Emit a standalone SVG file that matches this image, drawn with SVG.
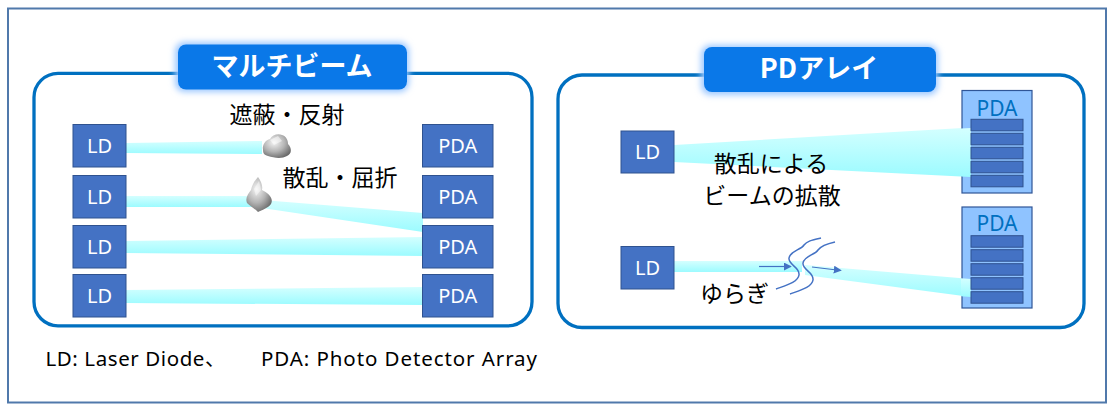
<svg xmlns="http://www.w3.org/2000/svg" width="1109" height="405" viewBox="0 0 1109 405">
  <defs>
    <linearGradient id="beam" x1="0" y1="0" x2="0" y2="1">
      <stop offset="0" stop-color="#d4ffff"/>
      <stop offset="1" stop-color="#9cfbff"/>
    </linearGradient>
    <radialGradient id="rock" cx="0.4" cy="0.35" r="0.7">
      <stop offset="0" stop-color="#f4f4f4"/>
      <stop offset="0.55" stop-color="#b4b4b4"/>
      <stop offset="1" stop-color="#6a6a6a"/>
    </radialGradient>
    <filter id="glow" x="-20%" y="-40%" width="140%" height="180%">
      <feGaussianBlur stdDeviation="3"/>
    </filter>
    <marker id="arrow" viewBox="0 0 10 10" refX="9" refY="5" markerWidth="8" markerHeight="8" orient="auto" markerUnits="userSpaceOnUse">
      <path d="M0,0 L10,5 L0,10 Z" fill="#4472c4"/>
    </marker>
    <style>
      .frame { fill: #ffffff; stroke: #5079ab; stroke-width: 2; }
      .panel { fill: none; stroke: #0070c0; stroke-width: 3.3; }
      .tabglow { fill: #9cc8ff; filter: url(#glow); }
      .tab { fill: #0a78e8; }
      .tabtxt { font-family: "Noto Sans CJK JP", sans-serif; font-weight: 700; font-size: 27px; fill: #ffffff; text-anchor: middle; }
      .box { fill: #4472c4; stroke: #2f528f; stroke-width: 1; }
      .boxtxt { font-family: "Noto Sans", "Liberation Sans", sans-serif; font-size: 20px; fill: #ffffff; text-anchor: middle; }
      .arr { fill: #8fc3ff; stroke: #2f5597; stroke-width: 1.2; }
      .arrtxt { font-family: "Noto Sans", "Liberation Sans", sans-serif; font-size: 21px; fill: #0070c0; text-anchor: middle; }
      .cell { fill: #4472c4; stroke: #2f528f; stroke-width: 1; }
      .beam { fill: url(#beam); }
      .jp { font-family: "Noto Sans CJK JP", sans-serif; font-size: 23px; fill: #000000; }
      .legend { font-family: "Noto Sans", "Noto Sans CJK JP", sans-serif; font-size: 20.5px; fill: #000000; }
      .wave { fill: none; stroke: #4472c4; stroke-width: 1.5; }
      .flow { stroke: #4472c4; stroke-width: 1.2; marker-end: url(#arrow); }
    </style>
  </defs>

  <!-- outer frame -->
  <rect class="frame" x="8" y="8.5" width="1098" height="394"/>

  <!-- panel outlines -->
  <g id="panel-multibeam">
    <rect class="panel" x="34" y="73.3" width="498" height="252.5" rx="24"/>
  </g>
  <g id="panel-pdarray">
    <rect class="panel" x="558" y="75" width="526" height="252.5" rx="24"/>
  </g>

  <!-- beams -->
  <g id="connectors">
    <!-- multibeam side -->
    <polygon class="beam" points="126,143 262,141 262,154 126,153"/>
    <polygon class="beam" points="126,196 252,196 252,207 126,207"/>
    <polygon class="beam" points="262,200 423,213 423,232 262,208"/>
    <polygon class="beam" points="126,241 423,237 423,256 126,253"/>
    <polygon class="beam" points="126,290 423,287 423,305 126,303"/>
    <!-- PD array side -->
    <polygon class="beam" points="674,145 971,127.5 971,177 674,162"/>
    <polygon class="beam" points="674,261 802,261 802,272 674,272"/>
    <polygon class="beam" points="805,265 971,279 971,297 805,275"/>
  </g>

  <!-- title tabs -->
  <g id="tab-multibeam">
    <rect class="tabglow" x="175" y="42" width="234" height="50" rx="9"/>
    <rect class="tab" x="178" y="44.5" width="229" height="45" rx="8"/>
    <text class="tabtxt" x="292" y="76">マルチビーム</text>
  </g>
  <g id="tab-pdarray">
    <rect class="tabglow" x="701" y="45" width="237" height="50" rx="9"/>
    <rect class="tab" x="704" y="47" width="232" height="45" rx="8"/>
    <text class="tabtxt" x="819" y="78">PDアレイ</text>
  </g>

  <!-- multibeam: laser diodes -->
  <g id="ld1"><rect class="box" x="73" y="124.5" width="53" height="42.5"/><text class="boxtxt" x="99.5" y="153">LD</text></g>
  <g id="ld2"><rect class="box" x="73" y="175.5" width="53" height="42.5"/><text class="boxtxt" x="99.5" y="204">LD</text></g>
  <g id="ld3"><rect class="box" x="73" y="225.5" width="53" height="42.5"/><text class="boxtxt" x="99.5" y="254">LD</text></g>
  <g id="ld4"><rect class="box" x="73" y="274.5" width="53" height="42.5"/><text class="boxtxt" x="99.5" y="303">LD</text></g>

  <!-- multibeam: photo detector arrays -->
  <g id="pda1"><rect class="box" x="422.5" y="124.5" width="70.5" height="42.5"/><text class="boxtxt" x="457.8" y="153">PDA</text></g>
  <g id="pda2"><rect class="box" x="422.5" y="175.5" width="70.5" height="42.5"/><text class="boxtxt" x="457.8" y="204">PDA</text></g>
  <g id="pda3"><rect class="box" x="422.5" y="225.5" width="70.5" height="42.5"/><text class="boxtxt" x="457.8" y="254">PDA</text></g>
  <g id="pda4"><rect class="box" x="422.5" y="274.5" width="70.5" height="42.5"/><text class="boxtxt" x="457.8" y="303">PDA</text></g>

  <!-- obstacles -->
  <g id="rock-block">
    <path fill="url(#rock)" d="M263,150 C262,144 266,140 270,139 C272,135 278,133 282,135 C286,136 288,140 288,144 C292,148 292,154 287,156 C282,159 274,158 268,156 C264,155 263,153 263,150 Z"/>
    <path fill="#ffffff" opacity="0.5" d="M270,140 L278,136 L282,141 L274,145 Z"/>
  </g>
  <g id="rock-scatter">
    <path fill="url(#rock)" d="M258,177 C261,181 263,186 262,190 C268,193 274,198 271,204 C268,208 262,210 258,212 C254,208 250,206 247,203 C245,198 248,194 251,190 C252,185 255,180 258,177 Z"/>
    <path fill="#ffffff" opacity="0.45" d="M254,189 L259,181 L261,190 L256,196 Z"/>
  </g>

  <text class="jp" x="287" y="123" text-anchor="middle">遮蔽・反射</text>
  <text class="jp" x="340" y="186" text-anchor="middle">散乱・屈折</text>

  <!-- PD array side: laser diodes -->
  <g id="ld5"><rect class="box" x="621" y="131" width="53" height="42"/><text class="boxtxt" x="647.5" y="159">LD</text></g>
  <g id="ld6"><rect class="box" x="621" y="246.5" width="53" height="42.5"/><text class="boxtxt" x="647.5" y="275">LD</text></g>

  <!-- PD array side: detector arrays -->
  <g id="pd-array1">
    <rect class="arr" x="962" y="90.5" width="70" height="102.5"/>
    <text class="arrtxt" x="997" y="115.5">PDA</text>
    <polygon class="beam" points="961,128.5 971,127.9 971,176.9 961,176.4"/>
    <rect class="cell" x="971" y="119.3" width="52" height="11.5"/>
    <rect class="cell" x="971" y="133.3" width="52" height="11.5"/>
    <rect class="cell" x="971" y="147.3" width="52" height="11.5"/>
    <rect class="cell" x="971" y="161.3" width="52" height="11.5"/>
    <rect class="cell" x="971" y="175.3" width="52" height="11.5"/>
  </g>
  <g id="pd-array2">
    <rect class="arr" x="962" y="207" width="70" height="101"/>
    <text class="arrtxt" x="997" y="230.5">PDA</text>
    <polygon class="beam" points="961,278.2 971,279 971,297 961,296.2"/>
    <rect class="cell" x="971" y="235.7" width="52" height="11.5"/>
    <rect class="cell" x="971" y="249.7" width="52" height="11.5"/>
    <rect class="cell" x="971" y="263.7" width="52" height="11.5"/>
    <rect class="cell" x="971" y="277.7" width="52" height="11.5"/>
    <rect class="cell" x="971" y="291.7" width="52" height="11.5"/>
  </g>

  <text class="jp" x="771" y="172" text-anchor="middle">散乱による</text>
  <text class="jp" x="772" y="204" text-anchor="middle">ビームの拡散</text>

  <!-- turbulence -->
  <g id="turbulence">
    <path class="wave" d="M776,289 C787,285 798,282 799,275 C800,267 788,265 789,258 C790,251 801,250 804,245 C807,241 812,240 821,238"/>
    <path class="wave" d="M790,294 C801,290 812,287 813,280 C814,272 802,270 803,263 C804,256 815,255 818,250 C821,246 826,244 835,242"/>
    <line class="flow" x1="759" y1="266.5" x2="791" y2="266.5"/>
    <line class="flow" x1="812" y1="267" x2="841" y2="270.5"/>
  </g>
  <text class="jp" x="700" y="302">ゆらぎ</text>

  <!-- legend -->
  <text class="legend" x="45.5" y="366" textLength="180" lengthAdjust="spacing">LD: Laser Diode、</text>
  <text class="legend" x="261" y="366" textLength="276" lengthAdjust="spacing">PDA: Photo Detector Array</text>
</svg>
